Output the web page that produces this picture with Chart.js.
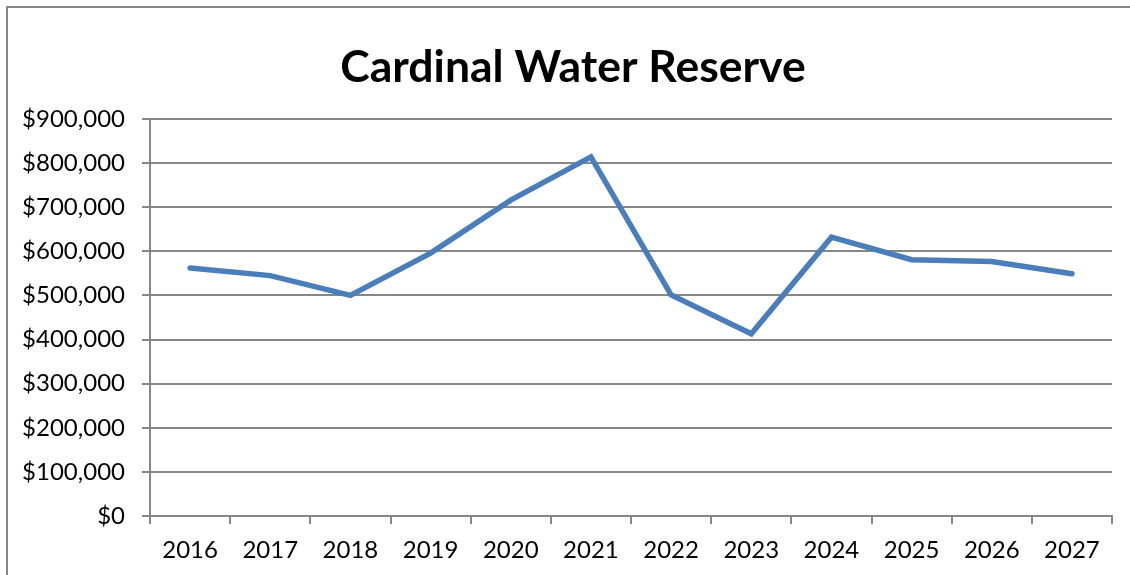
<!DOCTYPE html>
<html>
<head>
<meta charset="utf-8">
<script src="https://cdn.jsdelivr.net/npm/chart.js@4/dist/chart.umd.min.js"></script>
<style>
  html, body { margin: 0; padding: 0; background: #ffffff; }
  #wrap { position: relative; width: 1130px; height: 575px; }
</style>
</head>
<body>
<div id="wrap"><canvas id="c" width="1130" height="575"></canvas></div>
<script>
const chartTitle = "Cardinal Water Reserve";
const years = ["2016","2017","2018","2019","2020","2021","2022","2023","2024","2025","2026","2027"];
const reserve = [562000, 545000, 500000, 596000, 716000, 814000, 501000, 413000, 632000, 581000, 577000, 549000];
const yMin = 0;
const yMax = 900000;
const yStep = 100000;

const FONT = "Lato, 'Open Sans', 'Liberation Sans', sans-serif";
const GRID = "#878787";

const framePlugin = {
  id: 'frame',
  beforeDraw(chart) {
    const ctx = chart.ctx;
    ctx.save();
    ctx.fillStyle = '#ffffff';
    ctx.fillRect(0, 0, chart.width, chart.height);
    ctx.strokeStyle = GRID;
    ctx.lineWidth = 2;
    ctx.beginPath();
    ctx.moveTo(7, chart.height + 5);
    ctx.lineTo(7, 7);
    ctx.lineTo(chart.width + 5, 7);
    ctx.stroke();
    ctx.restore();
  },
  afterDraw(chart) {
    const ctx = chart.ctx;
    ctx.save();
    ctx.fillStyle = '#000000';
    ctx.font = "bold 44.5px " + FONT;
    ctx.textAlign = 'center';
    ctx.textBaseline = 'middle';
    ctx.fillText(chartTitle, 573, 68);
    ctx.restore();
  }
};

new Chart(document.getElementById('c'), {
  type: 'line',
  data: {
    labels: years,
    datasets: [{
      label: chartTitle,
      data: reserve,
      borderColor: '#4a7ebb',
      borderWidth: 5.5,
      pointRadius: 0,
      pointHoverRadius: 0,
      tension: 0,
      fill: false,
      borderJoinStyle: 'miter',
      borderCapStyle: 'round'
    }]
  },
  plugins: [framePlugin],
  options: {
    responsive: false,
    animation: false,
    devicePixelRatio: 1,
    layout: { padding: { left: 0, right: 18, top: 119, bottom: 0 } },
    plugins: {
      legend: { display: false },
      tooltip: { enabled: false },
      title: { display: false }
    },
    scales: {
      x: {
        offset: true,
        grid: {
          offset: true,
          drawOnChartArea: false,
          drawTicks: true,
          tickLength: 8,
          color: GRID,
          lineWidth: 2
        },
        border: { display: true, color: GRID, width: 2 },
        ticks: {
          color: '#000000',
          font: { family: FONT, size: 24 },
          padding: 12,
          maxRotation: 0,
          autoSkip: false
        },
        afterFit(scale) { scale.height = 59; }
      },
      y: {
        min: yMin,
        max: yMax,
        grid: {
          color: GRID,
          lineWidth: 2,
          drawTicks: true,
          tickLength: 8
        },
        border: { display: true, color: GRID, width: 2 },
        ticks: {
          stepSize: yStep,
          color: '#000000',
          font: { family: FONT, size: 24 },
          padding: 17,
          callback: v => '$' + Number(v).toLocaleString('en-US')
        },
        afterFit(scale) { scale.width = 150; }
      }
    }
  }
});
</script>
</body>
</html>
